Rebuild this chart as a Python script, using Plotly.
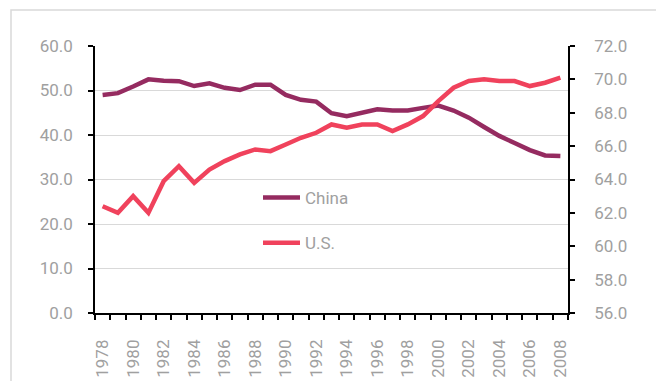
import plotly.graph_objects as go

# Household consumption as a share of GDP (%)
years = list(range(1978, 2009))
china = [49.0, 49.4, 50.9, 52.5, 52.2, 52.1, 51.0, 51.6, 50.6, 50.1, 51.3,
         51.3, 49.0, 47.9, 47.5, 44.9, 44.2, 45.1, 45.8, 45.5, 45.5, 46.1,
         46.6, 45.5, 43.9, 41.8, 39.8, 38.2, 36.6, 35.4, 35.3]
us = [62.4, 62.0, 63.0, 62.0, 63.9, 64.8, 63.8, 64.6, 65.1, 65.5, 65.8,
      65.7, 66.1, 66.5, 66.8, 67.3, 67.1, 67.3, 67.3, 66.9, 67.3, 67.8,
      68.7, 69.5, 69.9, 70.0, 69.9, 69.9, 69.6, 69.8, 70.1]
year_labels = [str(y) for y in range(1978, 2009, 2)]

FONT = "Roboto"
GREY = "#a0a0a0"

fig = go.Figure()
fig.add_trace(go.Scatter(x=years, y=china, name="China", mode="lines",
                         line=dict(color="#952b60", width=4.5),
                         legendgroup="a", yaxis="y"))
fig.add_trace(go.Scatter(x=years, y=us, name="U.S.", mode="lines",
                         line=dict(color="#f0425c", width=4.5),
                         legendgroup="b", yaxis="y2"))

W, H = 656, 381
L, R, T, B = 95, 88, 46, 68
pw, ph = W - L - R, H - T - B

# outer frame
fig.add_shape(type="rect", xref="paper", yref="paper",
              x0=(11 - L) / pw, x1=(W + 20 - L) / pw,
              y0=-(H + 20 - T - ph) / ph, y1=(H - B - 10) / ph,
              line=dict(color="#d9d9d9", width=1.5), fillcolor="rgba(0,0,0,0)")

fig.update_layout(
    width=W, height=H,
    margin=dict(l=L, r=R, t=T, b=B, autoexpand=False),
    paper_bgcolor="white", plot_bgcolor="white",
    font=dict(family=FONT, color=GREY, size=17),
    showlegend=True,
    legend=dict(x=(258 - L) / pw, y=(H - B - 180) / ph, xanchor="left", yanchor="top",
                font=dict(size=17, color=GREY), tracegroupgap=20, itemwidth=37,
                bgcolor="rgba(0,0,0,0)"),
    xaxis=dict(range=[1977.5, 2008.5], tickvals=list(range(1978, 2009, 2)),
               ticktext=year_labels, tickangle=-90, ticks="", ticklen=0,
               ticklabelstandoff=18, automargin=False,
               minor=dict(tick0=1977.5, dtick=1, ticks="outside", ticklen=5,
                          tickcolor="black", tickwidth=1.5, showgrid=False),
               showline=True, linecolor="black", linewidth=1.5,
               showgrid=False, zeroline=False),
    yaxis=dict(range=[0, 60], dtick=10, tickformat=".1f",
               ticks="outside", ticklen=5, tickcolor="black", tickwidth=1.5,
               ticklabelstandoff=12, automargin=False,
               showline=True, linecolor="black", linewidth=1.5,
               showgrid=True, gridcolor="#d9d9d9", gridwidth=1, zeroline=False),
    yaxis2=dict(range=[56, 72], dtick=2, tickformat=".1f", overlaying="y",
                side="right", ticks="outside", ticklen=5, tickcolor="black",
                tickwidth=1.5, ticklabelstandoff=16, automargin=False,
                showline=True, linecolor="black", linewidth=1.5,
                showgrid=False, zeroline=False),
)

fig.write_html("out.html")
